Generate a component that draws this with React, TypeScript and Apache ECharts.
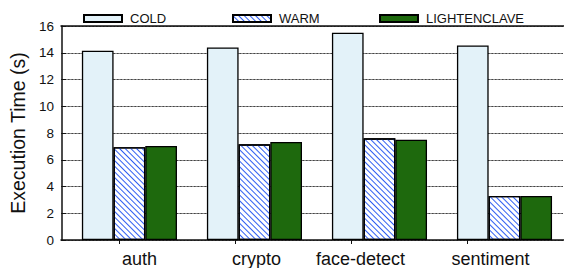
import React, { useEffect, useRef } from "react";
import * as echarts from "echarts";

const categories = ["auth", "crypto", "face-detect", "sentiment"];
const coldValues = [14.15, 14.4, 15.5, 14.55];
const warmValues = [6.93, 7.15, 7.6, 3.29];
const lightenclaveValues = [7.03, 7.33, 7.5, 3.29];
const yTicks = { min: 0, max: 16, interval: 2 };
const seriesNames = ["COLD", "WARM", "LIGHTENCLAVE"];
// per-label horizontal nudges (px) to mimic the original label placement
const labelShift = [15, 7, -14, -9];

const FONT = "'Liberation Sans', Arial, Helvetica, sans-serif";

export default function App() {
  const ref = useRef<HTMLDivElement>(null);
  useEffect(() => {
    if (!ref.current) return;
    const chart = echarts.init(ref.current, undefined, { renderer: "svg" });
    const rich: Record<string, any> = {};
    labelShift.forEach((s, i) => {
      rich["s" + i] = {
        fontSize: 18,
        fontFamily: FONT,
        color: "#111",
        padding: s >= 0 ? [0, 0, 0, 2 * s] : [0, -2 * s, 0, 0],
      };
    });
    const border = { borderColor: "#000", borderWidth: 1.3 };
    const legendCommon = {
      top: 7,
      itemWidth: 38,
      itemHeight: 7,
      icon: "rect",
      textStyle: { fontSize: 13, fontFamily: FONT, color: "#111", padding: [0, 0, 0, 3] },
    };
    chart.setOption({
      animation: false,
      backgroundColor: "#fff",
      legend: [
        { ...legendCommon, left: 78, data: [seriesNames[0]] },
        { ...legendCommon, left: 227, data: [seriesNames[1]] },
        { ...legendCommon, left: 374, data: [seriesNames[2]] },
      ],
      grid: [
        { left: 61, top: 26, width: 501, height: 214 },
        { left: 61, top: 26, width: 520, height: 214 },
        { left: 61, top: 26, width: 464, height: 214 },
      ],
      xAxis: [
        {
          type: "category",
          gridIndex: 0,
          data: categories,
          axisLine: { show: false },
          axisTick: { show: false },
          axisLabel: {
            margin: 10,
            formatter: (v: string, i: number) => `{s${i}|${v}}`,
            rich,
          },
        },
        {
          type: "value",
          gridIndex: 1,
          position: "bottom",
          min: 0,
          max: 1,
          axisLine: { show: true, lineStyle: { color: "#111", width: 1.5 } },
          axisTick: { show: false },
          axisLabel: { show: false },
          splitLine: { show: false },
        },
        {
          type: "value",
          gridIndex: 1,
          position: "top",
          min: 0,
          max: 1,
          axisLine: { show: true, lineStyle: { color: "#111", width: 1.5 } },
          axisTick: { show: false },
          axisLabel: { show: false },
          splitLine: { show: false },
        },
        {
          type: "category",
          gridIndex: 2,
          position: "top",
          data: categories,
          axisLine: { show: false },
          axisTick: { show: true, inside: true, length: 4, alignWithLabel: true, lineStyle: { color: "#111", width: 1 } },
          axisLabel: { show: false },
          splitLine: { show: false },
        },
      ],
      yAxis: [
        {
          type: "value",
          gridIndex: 0,
          min: yTicks.min,
          max: yTicks.max,
          interval: yTicks.interval,
          name: "Execution Time (s)",
          nameLocation: "middle",
          nameGap: 33,
          nameTextStyle: { fontSize: 19.5, fontFamily: FONT, color: "#111" },
          axisLine: { show: true, lineStyle: { color: "#111", width: 1.5 } },
          axisTick: { show: true, inside: true, length: 4, lineStyle: { color: "#111" } },
          axisLabel: { fontSize: 13.5, fontFamily: FONT, color: "#111", margin: 8 },
          splitLine: { show: true, lineStyle: { color: "#8c8c8c", type: "solid", width: 1 } },
        },
        {
          type: "value",
          gridIndex: 1,
          min: yTicks.min,
          max: yTicks.max,
          interval: yTicks.interval,
          axisLine: { show: false },
          axisTick: { show: false },
          axisLabel: { show: false },
          splitLine: { show: true, lineStyle: { color: "#444444", type: [1.5, 2], width: 1 } },
        },
        { type: "value", gridIndex: 2, show: false, min: 0, max: 1 },
      ],
      series: [
        {
          name: "offset",
          type: "bar",
          xAxisIndex: 0,
          yAxisIndex: 0,
          data: [],
          barWidth: 10,
          barGap: "0%",
          silent: true,
        },
        {
          name: seriesNames[0],
          type: "bar",
          data: coldValues,
          barWidth: 31.7,
          barGap: "0%",
          itemStyle: { color: "#e3f2f9", ...border },
        },
        {
          name: seriesNames[1],
          type: "bar",
          data: warmValues,
          barWidth: 31.7,
          barGap: "0%",
          itemStyle: {
            color: "#ffffff",
            ...border,
            decal: {
              symbol: "rect",
              symbolSize: 1,
              color: "#2f5ef2",
              dashArrayX: [1, 0],
              dashArrayY: [1, 2.5],
              rotation: Math.PI / 4,
            },
          },
        },
        {
          name: seriesNames[2],
          type: "bar",
          data: lightenclaveValues,
          barWidth: 31.7,
          barGap: "0%",
          itemStyle: { color: "#1e690d", ...border },
        },
      ],
    });
    return () => chart.dispose();
  }, []);
  return (
    <div
      ref={ref}
      style={{ position: "absolute", left: 0, top: 0, width: 564, height: 268 }}
    />
  );
}
